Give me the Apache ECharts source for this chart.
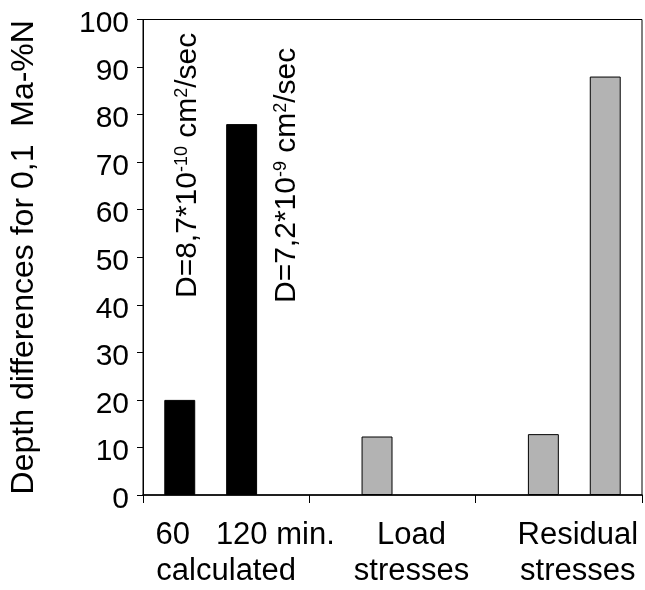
<!DOCTYPE html>
<html>
<head>
<meta charset="utf-8">
<script src="https://cdn.jsdelivr.net/npm/echarts@6/dist/echarts.min.js"></script>
<style>
html,body{margin:0;padding:0;background:#fff;}
#chart{width:645px;height:590px;}
</style>
</head>
<body>
<div id="chart"></div>
<script>
// ---- data ----
var categoryLine1 = ['60   120 min.', 'Load', 'Residual'];
var categoryLine2 = ['calculated', 'stresses', 'stresses'];
var categories = ['60 120 min. calculated', 'Load stresses', 'Residual stresses'];
var seriesA = [20, null, null];      // black, 60 min
var seriesB = [null, 12.3, 12.8];    // gray
var seriesC = [78, null, null];      // black, 120 min
var seriesD = [null, null, 88];      // gray
var yTicks = [0, 10, 20, 30, 40, 50, 60, 70, 80, 90, 100];
var yAxisName = 'Depth differences for 0,1  Ma-%N';
var note1 = 'D=8,7*10{sup|-10} cm{sup|2}/sec';
var note2 = 'D=7,2*10{sup|-9} cm{sup|2}/sec';

var FONT = '"Liberation Sans", Arial, sans-serif';
var chart = echarts.init(document.getElementById('chart'), null, {renderer: 'canvas'});

function barSeries(data, color) {
  return {
    type: 'bar',
    data: data,
    barGap: '0%',
    barCategoryGap: '25.6%',
    itemStyle: {color: color, borderColor: '#000', borderWidth: 1},
    animation: false
  };
}

var option = {
  animation: false,
  backgroundColor: '#fff',
  grid: {left: 143, right: 3, top: 17, bottom: 95, show: true, borderColor: '#000', borderWidth: 1, backgroundColor: 'transparent'},
  xAxis: {
    type: 'category',
    data: categories,
    axisLine: {lineStyle: {color: '#000', width: 1.5}},
    axisTick: {show: true, length: 8, interval: 0, lineStyle: {color: '#000'}},
    axisLabel: {
      interval: 0,
      margin: 22,
      color: '#000',
      fontFamily: FONT,
      fontSize: 31,
      lineHeight: 36,
      padding: [0, 0, 0, 38],
      formatter: function (v, i) {
        if (i === 0) return '{a|' + categoryLine1[i] + '}\n{c|' + categoryLine2[i] + '}';
        return '{a|' + categoryLine1[i] + '}\n{a|' + categoryLine2[i] + '}';
      },
      rich: {
        a: {fontSize: 31, lineHeight: 36, fontFamily: FONT, color: '#000'},
        c: {fontSize: 31, lineHeight: 36, fontFamily: FONT, color: '#000', padding: [0, 38, 0, 0]}
      }
    },
    splitLine: {show: false}
  },
  yAxis: {
    type: 'value',
    min: yTicks[0],
    max: yTicks[yTicks.length - 1],
    interval: 10,
    name: yAxisName,
    nameLocation: 'middle',
    nameGap: 103,
    nameRotate: 90,
    nameTextStyle: {color: '#000', fontFamily: FONT, fontSize: 32},
    axisLine: {show: true, lineStyle: {color: '#000', width: 1}},
    axisTick: {show: true, length: 6, lineStyle: {color: '#000'}},
    axisLabel: {
      color: '#000', fontFamily: FONT, fontSize: 30, margin: 14,
      formatter: '{v|{value}}',
      rich: {v: {fontSize: 30, fontFamily: FONT, color: '#000', lineHeight: 30, padding: [9, 0, 0, 0]}}
    },
    splitLine: {show: false}
  },
  series: [
    barSeries(seriesA, '#000000'),
    barSeries(seriesB, '#b3b3b3'),
    barSeries(seriesC, '#000000'),
    barSeries(seriesD, '#b3b3b3')
  ],
  graphic: [
    {
      type: 'text', x: 188, y: 298, rotation: Math.PI / 2,
      style: {text: note1, fill: '#000', fontSize: 30, fontFamily: FONT, align: 'left', verticalAlign: 'middle',
        rich: {sup: {fontSize: 18, fontFamily: FONT, verticalAlign: 'top', fill: '#000'}}}
    },
    {
      type: 'text', x: 287, y: 303, rotation: Math.PI / 2,
      style: {text: note2, fill: '#000', fontSize: 30, fontFamily: FONT, align: 'left', verticalAlign: 'middle',
        rich: {sup: {fontSize: 18, fontFamily: FONT, verticalAlign: 'top', fill: '#000'}}}
    }
  ]
};
chart.setOption(option);
</script>
</body>
</html>
